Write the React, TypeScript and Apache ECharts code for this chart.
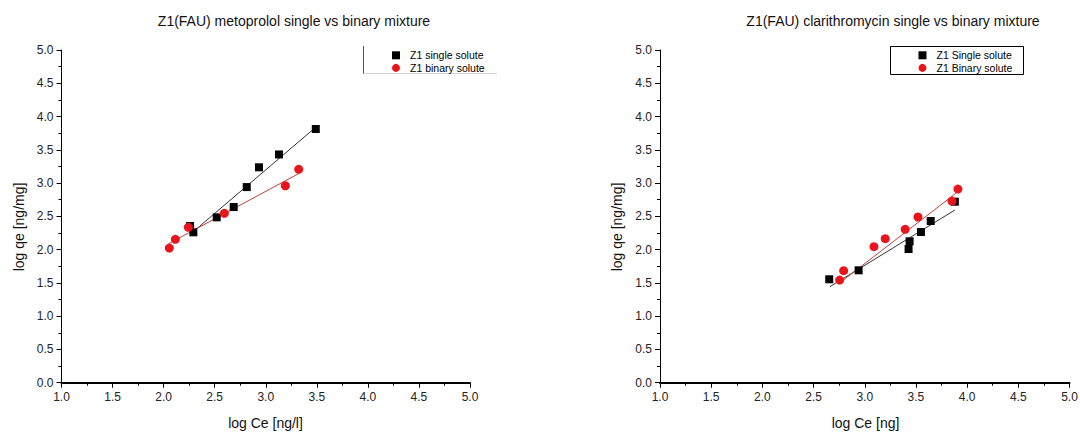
import React, { useEffect, useRef } from "react";
import * as echarts from "echarts";

// ---- Left chart: metoprolol ----
const metoSingleX = [2.259, 2.291, 2.52, 2.686, 2.814, 2.934, 3.13, 3.49];
const metoSingleY = [2.355, 2.26, 2.485, 2.64, 2.94, 3.237, 3.43, 3.813];
const metoBinaryX = [2.056, 2.115, 2.242, 2.595, 3.192, 3.323];
const metoBinaryY = [2.024, 2.155, 2.335, 2.545, 2.96, 3.207];
const metoSingleFitX = [2.26, 3.49];
const metoSingleFitY = [2.23, 3.84];
const metoBinaryFitX = [2.05, 3.32];
const metoBinaryFitY = [2.09, 3.14];

// ---- Right chart: clarithromycin ----
const clarSingleX = [2.653, 2.94, 3.428, 3.438, 3.549, 3.644, 3.88];
const clarSingleY = [1.554, 1.689, 2.009, 2.125, 2.265, 2.43, 2.72];
const clarBinaryX = [2.755, 2.794, 3.09, 3.2, 3.395, 3.52, 3.852, 3.91];
const clarBinaryY = [1.543, 1.683, 2.044, 2.164, 2.305, 2.49, 2.73, 2.91];
const clarSingleFitX = [2.66, 3.88];
const clarSingleFitY = [1.443, 2.595];
const clarBinaryFitX = [2.75, 3.89];
const clarBinaryFitY = [1.494, 2.846];

// ---- Axes / labels ----
const xRange = [1, 5];
const yRange = [0, 5];
const tickStep = 0.5;
const titles = [
  "Z1(FAU) metoprolol single vs binary mixture",
  "Z1(FAU) clarithromycin single vs binary mixture",
];
const xNames = ["log Ce [ng/l]", "log Ce [ng]"];
const yName = "log qe [ng/mg]";
const legendNamesLeft = ["Z1 single solute", "Z1 binary solute"];
const legendNamesRight = ["Z1 Single solute", "Z1 Binary solute"];

const FONT = "'Liberation Sans', Arial, sans-serif";
const RED = "#e8161c";

const zip = (xs: number[], ys: number[]) => xs.map((x, i) => [x, ys[i]]);

function makeX(gridIndex: number) {
  return {
    type: "value",
    gridIndex,
    min: xRange[0],
    max: xRange[1],
    interval: tickStep,
    axisLine: { show: true, onZero: false, lineStyle: { color: "#000", width: 2 } },
    axisTick: { show: true, inside: false, length: 5, lineStyle: { color: "#000", width: 1 } },
    minorTick: { show: true, splitNumber: 2, length: 3, lineStyle: { color: "#000", width: 1 } },
    splitLine: { show: false },
    minorSplitLine: { show: false },
    axisLabel: {
      formatter: (v: number) => v.toFixed(1),
      color: "#222",
      fontSize: 12,
      fontFamily: FONT,
      margin: 8,
    },
  };
}

function makeY(gridIndex: number) {
  return {
    type: "value",
    gridIndex,
    min: yRange[0],
    max: yRange[1],
    interval: tickStep,
    axisLine: { show: true, onZero: false, lineStyle: { color: "#000", width: 1 } },
    axisTick: { show: true, inside: false, length: 5, lineStyle: { color: "#000", width: 1 } },
    minorTick: { show: true, splitNumber: 2, length: 3, lineStyle: { color: "#000", width: 1 } },
    splitLine: { show: false },
    minorSplitLine: { show: false },
    axisLabel: {
      formatter: (v: number) => v.toFixed(1),
      color: "#222",
      fontSize: 12,
      fontFamily: FONT,
      margin: 8,
    },
  };
}

function scatter(name: string, xs: number[], ys: number[], idx: number, symbol: string, color: string, size: number) {
  return {
    name,
    type: "scatter",
    xAxisIndex: idx,
    yAxisIndex: idx,
    data: zip(xs, ys),
    symbol,
    symbolSize: size,
    itemStyle: { color, opacity: 1 },
    z: 3,
  };
}

function fit(xs: number[], ys: number[], idx: number, color: string) {
  return {
    type: "line",
    xAxisIndex: idx,
    yAxisIndex: idx,
    data: zip(xs, ys),
    symbol: "none",
    showSymbol: false,
    silent: true,
    lineStyle: { color, width: 1 },
    z: 2,
  };
}

function legend(names: string[], left: number) {
  return {
    data: names,
    orient: "vertical",
    left,
    top: 49.5,
    itemWidth: 8,
    itemHeight: 8,
    itemGap: 1,
    selectedMode: false,
    padding: 0,
    textStyle: {
      fontSize: 10.5,
      lineHeight: 11.6,
      fontFamily: FONT,
      color: "#000",
      padding: [0, 0, 0, 5],
    },
  };
}

export default function App() {
  const ref = useRef<HTMLDivElement>(null);
  useEffect(() => {
    if (!ref.current) return;
    const chart = echarts.init(ref.current, undefined, { renderer: "svg" });
    const option: any = {
      animation: false,
      backgroundColor: "#fff",
      grid: [
        { left: 61.5, top: 50, width: 408.5, height: 332.7, outerBoundsMode: "none", containLabel: false },
        { left: 660, top: 50, width: 409.5, height: 332.7, outerBoundsMode: "none", containLabel: false },
      ],
      xAxis: [makeX(0), makeX(1)],
      yAxis: [makeY(0), makeY(1)],
      legend: [legend(legendNamesLeft, 392), legend(legendNamesRight, 918.5)],
      series: [
        fit(metoSingleFitX, metoSingleFitY, 0, "#333"),
        fit(metoBinaryFitX, metoBinaryFitY, 0, "#c0403c"),
        scatter(legendNamesLeft[0], metoSingleX, metoSingleY, 0, "rect", "#000", 8),
        scatter(legendNamesLeft[1], metoBinaryX, metoBinaryY, 0, "circle", RED, 9),
        fit(clarSingleFitX, clarSingleFitY, 1, "#333"),
        fit(clarBinaryFitX, clarBinaryFitY, 1, "#c0403c"),
        scatter(legendNamesRight[0], clarSingleX, clarSingleY, 1, "rect", "#000", 8),
        scatter(legendNamesRight[1], clarBinaryX, clarBinaryY, 1, "circle", RED, 9),
      ],
      graphic: [
        {
          type: "text", x: 294, y: 21,
          style: { text: titles[0], font: `14px ${FONT}`, fill: "#111", align: "center", verticalAlign: "middle" },
        },
        {
          type: "text", x: 893, y: 21,
          style: { text: titles[1], font: `14px ${FONT}`, fill: "#111", align: "center", verticalAlign: "middle" },
        },
        {
          type: "text", x: 265.5, y: 423,
          style: { text: xNames[0], font: `14px ${FONT}`, fill: "#111", align: "center", verticalAlign: "middle" },
        },
        {
          type: "text", x: 865.5, y: 423,
          style: { text: xNames[1], font: `14px ${FONT}`, fill: "#111", align: "center", verticalAlign: "middle" },
        },
        {
          type: "text", x: 19, y: 227, rotation: Math.PI / 2,
          style: { text: yName, font: `14px ${FONT}`, fill: "#111", align: "center", verticalAlign: "middle" },
        },
        {
          type: "text", x: 617, y: 227, rotation: Math.PI / 2,
          style: { text: yName, font: `14px ${FONT}`, fill: "#111", align: "center", verticalAlign: "middle" },
        },
        {
          type: "line", shape: { x1: 363.5, y1: 46, x2: 363.5, y2: 74 },
          style: { stroke: "#555", lineWidth: 1 },
        },
        {
          type: "line", shape: { x1: 363.5, y1: 73.5, x2: 497, y2: 73.5 },
          style: { stroke: "#d0d0d0", lineWidth: 1 },
        },
        {
          type: "rect", shape: { x: 890.5, y: 46.5, width: 133, height: 28 },
          style: { stroke: "#000", lineWidth: 1, fill: "none" },
        },
      ],
    };
    chart.setOption(option);
    return () => chart.dispose();
  }, []);
  return (
    <div
      ref={ref}
      style={{ position: "fixed", left: 0, top: 0, width: 1080, height: 432, background: "#fff" }}
    />
  );
}
